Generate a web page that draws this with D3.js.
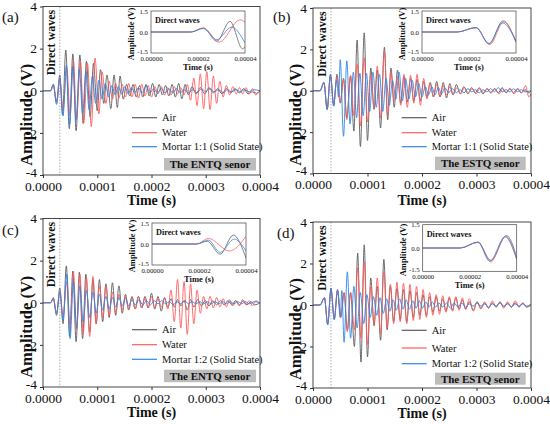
<!DOCTYPE html>
<html><head><meta charset="utf-8">
<script src="https://cdn.jsdelivr.net/npm/d3@7"></script>
<style>
body{margin:0;background:#fff;}
svg{display:block;font-family:"Liberation Serif","Times New Roman",Times,serif;}
</style>
</head><body>
<svg id="chart" width="550" height="424"></svg>
<script>
// ---------- tick values / labels ----------
const xTicks = [0, 0.0001, 0.0002, 0.0003, 0.0004];
const xTickLabels = ["0.0000", "0.0001", "0.0002", "0.0003", "0.0004"];
const yTicks = [4, 2, 0, -2, -4];
const yTickLabels = ["4", "2", "0", "-2", "-4"];
const insetXTicks = [0, 0.00002, 0.00004];
const insetXTickLabels = ["0.00000", "0.00002", "0.00004"];
const insetYTicks = [1.5, 0, -1.5];
const insetYTickLabels = ["1.5", "0.0", "-1.5"];
const panelLetters = ["(a)", "(b)", "(c)", "(d)"];
const sensorLabels = ["The ENTQ senor", "The ESTQ senor", "The ENTQ senor", "The ESTQ senor"];
const mortarLabels = ["Mortar 1:1 (Solid State)", "Mortar 1:1 (Solid State)", "Mortar 1:2 (Solid State)", "Mortar 1:2 (Solid State)"];
const seriesLabels = ["Air", "Water"];
const directWaveTimes = [0.000031, 0.000033, 0.000031, 0.000033]; // s

// ---------- waveforms: [time (µs), amplitude (V)] ----------
const airA = [[0,0],[14,0],[19,0.3],[25,-0.5],[31,0.75],[36,-1.15],[42,1.93],[48.5,-1.8],[55,1.75],[61,-1.9],[68,1.7],[74,-1.55],[80,1.4],[87,-1.25],[93,1.3],[100,-0.95],[106,1.0],[112,-0.6],[118,0.75],[125,-0.85],[131,0.75],[137,-0.8],[142,0.7],[148,-0.4],[154,0.3],[160,-0.25],[166,0.3],[172,-0.3],[178,0.25],[184,-0.3],[190,0.3],[196,-0.25],[202,0.35],[208,-0.3],[214,0.3],[220,-0.2],[226,0.25],[232,-0.25],[238,0.3],[244,-0.3],[250,0.35],[256,-0.38],[262,0.3],[268,-0.2],[275,0.2],[282,-0.15],[290,0.15],[298,-0.15],[306,0.15],[314,-0.1],[322,0.1],[330,-0.15],[338,0.1],[346,-0.1],[354,0.1],[362,-0.1],[370,0.1],[378,-0.15],[386,-0.05],[394,-0.12],[400,0]];
const waterA = [[0,0],[14,0],[19,0.25],[25,-0.6],[31,0.5],[37,-0.9],[44,1.1],[50,-1.2],[56,1.45],[62,-1.3],[69,1.4],[75,-1.55],[82,1.3],[89,-1.7],[96,1.55],[103,-1.1],[109,0.9],[116,-0.6],[122,0.45],[128,-0.4],[134,0.35],[140,-0.35],[146,0.3],[152,-0.3],[158,0.35],[164,-0.3],[170,0.3],[176,-0.35],[182,0.3],[188,-0.25],[194,0.25],[200,-0.3],[206,0.2],[212,-0.15],[218,0.2],[224,-0.2],[230,0.15],[236,-0.2],[242,0.2],[248,-0.15],[254,0.15],[260,-0.2],[266,0.3],[272,-0.45],[278,0.6],[284,-0.7],[290,0.8],[296,-0.85],[302,0.9],[308,-0.9],[314,0.7],[320,-0.6],[326,0.45],[332,-0.3],[338,0.25],[344,-0.2],[350,0.2],[356,-0.15],[362,0.15],[368,-0.15],[374,0.15],[380,-0.15],[386,0.1],[392,-0.2],[400,0.05]];
const mortarA = [[0,0],[14,0],[19,0.3],[25,-0.65],[31,0.6],[37,-1.2],[43,1.2],[49,-1.6],[55,1.15],[61,-1.4],[67,1.0],[73,-1.1],[79,0.9],[85,-0.9],[91,0.7],[97,-0.6],[103,0.5],[109,-0.4],[115,0.35],[121,-0.3],[127,0.25],[133,-0.2],[139,0.2],[145,-0.15],[151,0.2],[157,-0.15],[163,0.15],[169,-0.1],[176,0.15],[183,-0.1],[190,0.25],[197,-0.1],[204,0.1],[211,-0.1],[218,0.1],[225,-0.1],[232,0.1],[239,-0.1],[246,0.1],[253,-0.1],[260,0.05],[268,-0.1],[276,0.05],[284,-0.1],[292,0.1],[300,-0.05],[308,0.1],[316,-0.05],[324,0.05],[332,-0.1],[340,0.05],[348,-0.05],[356,0.05],[364,-0.05],[372,0.05],[380,-0.05],[388,0.05],[400,0]];

const airB = [[0,0],[13,0],[20,0.4],[26,-0.9],[32,0.75],[38,-0.7],[44,0.8],[50,-0.6],[56,0.6],[62,-1.3],[69,0.7],[75,-1.95],[81,2.45],[87,-2.7],[94,2.8],[100,-2.4],[106,1.1],[112,-0.9],[118,1.0],[124,-1.8],[131,2.1],[137,-1.4],[143,1.1],[149,-0.8],[155,1.0],[161,-0.6],[167,0.7],[173,-0.55],[179,0.6],[185,-0.5],[191,0.55],[197,-0.5],[203,0.45],[209,-0.3],[215,0.4],[221,-0.3],[227,0.45],[233,-0.3],[239,0.4],[245,-0.35],[251,0.35],[257,-0.2],[263,0.3],[270,-0.15],[277,0.2],[284,-0.15],[291,0.15],[298,-0.1],[305,0.15],[312,-0.15],[319,0.1],[326,-0.1],[333,0.1],[340,-0.1],[347,0.15],[354,-0.1],[361,0.1],[368,-0.1],[375,0.1],[382,-0.1],[389,0.05],[396,-0.1],[400,0]];
const waterB = [[0,0],[13,0],[20,0.4],[26,-0.9],[32,0.7],[38,-0.65],[44,0.65],[50,-0.55],[56,0.55],[62,-1.4],[69,0.75],[75,-1.2],[81,1.3],[87,-1.7],[94,1.6],[100,-1.5],[106,0.8],[112,-0.8],[118,1.2],[124,-1.3],[131,1.9],[137,-1.2],[143,0.9],[149,-0.5],[155,0.7],[161,-0.7],[167,0.8],[173,-0.8],[179,0.75],[185,-0.6],[191,0.8],[197,-0.7],[203,0.6],[209,-0.4],[215,0.35],[221,-0.3],[227,0.3],[233,-0.3],[239,0.25],[245,-0.2],[251,0.2],[257,-0.2],[264,0.15],[271,-0.15],[278,0.15],[285,-0.1],[292,0.1],[299,-0.15],[306,0.1],[313,-0.1],[320,0.1],[327,-0.1],[334,0.1],[341,-0.15],[348,0.1],[355,-0.1],[362,0.1],[369,-0.15],[376,0.1],[383,-0.1],[390,0.25],[396,-0.3],[400,-0.15]];
const mortarB = [[0,0],[13,0],[20,0.4],[26,-0.9],[32,0.8],[38,-0.75],[43,0.5],[47,-0.3],[50,1.5],[56,-2.2],[62,1.45],[68,-1.6],[74,0.9],[80,-1.3],[86,0.85],[92,-1.2],[98,0.85],[104,-1.0],[110,0.9],[116,-0.8],[122,0.8],[128,-1.0],[134,0.6],[140,-0.7],[146,0.5],[152,-0.4],[158,0.9],[164,-0.5],[170,0.6],[176,-0.4],[182,0.5],[188,-0.3],[194,0.35],[200,-0.3],[206,0.2],[212,-0.2],[218,0.2],[224,-0.2],[230,0.15],[236,-0.15],[242,0.15],[249,-0.1],[256,0.1],[263,-0.1],[270,0.05],[277,-0.1],[284,0.1],[291,-0.05],[298,0.05],[305,-0.1],[312,0.05],[319,-0.05],[326,0.1],[333,-0.05],[340,0.15],[347,-0.05],[354,0.05],[361,-0.05],[368,0.1],[375,-0.05],[382,0.05],[389,-0.05],[400,0]];

const airC = [[0,0],[14,0],[19,0.2],[25,-0.6],[31,0.7],[37,-1.0],[43,1.75],[49,-1.6],[55,1.5],[61,-1.85],[67,1.45],[73,-1.7],[79,1.35],[86,-1.4],[92,1.1],[98,-1.0],[104,1.1],[110,-0.9],[116,0.9],[122,-0.7],[128,0.95],[134,-0.6],[140,0.8],[146,-0.5],[152,0.4],[158,-0.35],[164,0.3],[170,-0.3],[176,0.3],[182,-0.25],[188,0.3],[194,-0.25],[200,0.45],[206,-0.3],[212,0.3],[218,-0.4],[224,0.25],[230,-0.2],[236,0.2],[242,-0.2],[248,0.15],[254,-0.15],[260,0.1],[266,-0.35],[272,0.15],[278,-0.2],[285,0.15],[292,-0.15],[299,0.1],[306,-0.15],[313,0.1],[320,-0.1],[327,0.1],[334,-0.1],[341,0.1],[348,-0.1],[355,0.1],[362,-0.1],[369,0.1],[376,-0.1],[383,0.05],[390,-0.1],[400,0]];
const waterC = [[0,0],[14,0],[19,0.25],[25,-0.5],[31,0.5],[37,-0.6],[44,1.0],[50,-1.1],[56,1.5],[62,-1.3],[68,1.35],[74,-1.5],[80,1.2],[86,-1.6],[92,1.25],[98,-1.0],[104,0.8],[110,-0.7],[116,0.8],[122,-0.6],[128,0.5],[134,-0.5],[140,0.4],[146,-0.35],[152,0.3],[158,-0.3],[164,0.25],[170,-0.3],[176,0.3],[182,-0.25],[188,0.2],[194,-0.25],[200,0.3],[206,-0.25],[212,0.2],[218,-0.2],[224,0.2],[230,-0.3],[236,0.6],[242,-0.9],[248,1.1],[254,-1.2],[260,1.0],[266,-1.5],[272,0.9],[278,-1.0],[284,0.6],[290,-0.5],[296,0.3],[302,-0.3],[308,0.3],[314,-0.25],[320,0.25],[326,-0.2],[332,0.2],[338,-0.2],[344,0.15],[350,-0.15],[356,0.1],[362,-0.15],[368,0.15],[374,-0.1],[380,0.1],[386,-0.15],[392,0.1],[400,-0.05]];
const mortarC = [[0,0],[14,0],[19,0.2],[25,-0.5],[31,0.5],[37,-0.8],[44,1.35],[50,-1.7],[56,1.0],[62,-1.2],[68,0.8],[74,-0.9],[80,0.6],[86,-0.7],[92,0.5],[98,-0.5],[104,0.4],[110,-0.35],[116,0.3],[122,-0.3],[128,0.25],[134,-0.2],[140,0.25],[146,-0.15],[152,0.2],[158,-0.15],[164,0.15],[170,-0.1],[177,0.15],[184,-0.1],[191,0.1],[198,-0.1],[205,0.1],[212,-0.05],[219,0.1],[226,-0.05],[233,0.05],[240,-0.1],[247,0.05],[254,-0.05],[261,0.1],[268,-0.05],[275,0.05],[282,-0.05],[289,0.05],[296,-0.05],[303,0.05],[310,-0.05],[317,0.05],[324,-0.05],[331,0.05],[338,-0.05],[345,0.05],[352,-0.05],[359,0.05],[366,-0.05],[373,0.05],[380,-0.05],[390,0.05],[400,0]];

const airD = [[0,0],[13,0],[21,0.35],[27,-0.95],[33,0.8],[39,-0.7],[45,0.75],[51,-0.6],[57,0.6],[63,-1.2],[69,0.6],[76,-2.0],[82,2.5],[88,-2.75],[94,2.9],[100,-2.5],[106,1.3],[112,-1.0],[118,0.9],[124,-1.7],[130,2.2],[136,-1.2],[142,0.9],[148,-0.8],[154,0.8],[160,-0.7],[166,0.75],[172,-0.8],[178,0.7],[184,-0.6],[190,0.6],[196,-0.5],[202,0.5],[208,-0.5],[214,0.4],[220,-0.35],[226,0.4],[232,-0.3],[238,0.3],[244,-0.3],[250,0.35],[256,-0.25],[262,0.35],[268,-0.2],[274,0.25],[280,-0.2],[287,0.15],[294,-0.25],[301,0.15],[308,-0.15],[315,0.1],[322,-0.15],[329,0.1],[336,-0.1],[343,0.15],[350,-0.1],[357,0.1],[364,-0.1],[371,0.1],[378,-0.1],[385,0.1],[392,-0.1],[400,0]];
const waterD = [[0,0],[13,0],[21,0.35],[27,-0.9],[33,0.75],[39,-0.65],[45,0.7],[51,-0.55],[57,0.55],[63,-1.3],[69,0.6],[76,-1.2],[82,1.8],[88,-1.6],[94,2.1],[100,-1.9],[106,0.9],[112,-0.9],[118,1.3],[124,-1.4],[130,1.6],[136,-1.1],[142,1.0],[148,-0.9],[154,1.1],[160,-0.8],[166,1.05],[172,-0.9],[178,1.0],[184,-0.75],[190,0.9],[196,-0.7],[202,0.75],[208,-0.6],[214,0.6],[220,-0.5],[226,0.5],[232,-0.45],[238,0.45],[244,-0.35],[250,0.4],[256,-0.3],[262,0.4],[268,-0.25],[274,0.35],[280,-0.2],[287,0.3],[294,-0.3],[301,0.15],[308,-0.2],[315,0.15],[322,-0.15],[329,0.2],[336,-0.1],[343,0.15],[350,-0.15],[357,0.15],[364,-0.1],[371,0.2],[378,-0.1],[385,0.1],[392,-0.1],[400,0]];
const mortarD = [[0,0],[13,0],[21,0.35],[27,-0.95],[33,0.8],[39,-0.7],[45,0.7],[50,-0.6],[53,0.7],[57,-1.8],[63,1.6],[69,-1.6],[75,0.9],[81,-1.1],[87,0.6],[93,-0.9],[99,0.5],[105,-0.6],[111,0.4],[117,-0.5],[123,0.35],[129,-0.4],[135,0.3],[141,-0.3],[147,0.25],[153,-0.25],[159,0.3],[165,-0.2],[171,0.25],[177,-0.2],[183,0.2],[189,-0.15],[195,0.2],[201,-0.15],[207,0.15],[213,-0.1],[219,0.15],[225,-0.1],[231,0.1],[238,-0.1],[245,0.1],[252,-0.15],[259,0.1],[266,-0.1],[273,0.1],[280,-0.1],[287,0.05],[294,-0.05],[301,0.1],[308,-0.05],[315,0.05],[322,-0.1],[329,0.05],[336,-0.05],[343,0.1],[350,-0.05],[357,0.05],[364,-0.1],[371,0.05],[378,-0.05],[385,0.05],[392,-0.05],[400,0.05]];

// ---------- inset (direct waves) : [time (µs), amplitude (V)] ----------
const airAi = [[0,0],[17,0],[22.3,0.28],[28,-0.66],[33.6,0.76],[39,-1.2],[40,-1.05]];
const waterAi = [[0,0],[17,0],[22.3,0.3],[29,-0.73],[37.9,0.87],[40,0.7]];
const mortarAi = [[0,0],[17,0],[22.3,0.25],[28,-0.55],[34.3,0.35],[40,-0.78]];
const airBi = [[0,0],[15,0],[23,0.32],[28.5,-0.85],[34.5,0.8],[40,-0.7]];
const waterBi = [[0,0],[15,0],[23,0.3],[28.8,-0.9],[34.8,0.72],[40,-0.75]];
const mortarBi = [[0,0],[15,0],[23,0.32],[28.5,-0.82],[34.2,0.65],[40,-0.65]];
const airCi = [[0,0],[19,0],[23.5,0.2],[29,-0.73],[34.6,0.64],[40,-1.0]];
const waterCi = [[0,0],[19,0],[24,0.4],[33,-0.5],[40,0.55]];
const mortarCi = [[0,0],[19,0],[24,0.28],[29,-0.6],[35,0.35],[40,-0.5]];
const airDi = [[0,0],[16,0],[23.5,0.38],[29,-0.8],[35.7,0.8],[40,-0.6]];
const waterDi = [[0,0],[16,0],[23.5,0.36],[29,-0.9],[35,0.72],[40,-0.75]];
const mortarDi = [[0,0],[16,0],[23.5,0.38],[28.5,-0.85],[35.2,0.75],[40,-0.7]];

const mainSeries = [[airA, waterA, mortarA],[airB, waterB, mortarB],[airC, waterC, mortarC],[airD, waterD, mortarD]];
const insetSeries = [[airAi, waterAi, mortarAi],[airBi, waterBi, mortarBi],[airCi, waterCi, mortarCi],[airDi, waterDi, mortarDi]];

// ---------- layout (pixels) ----------
const colors = ["#5c5c5c", "#ff5c5c", "#2f86e6"];
const layout = [
  {x0:43, x1:260, yT:6.5, yB:175, ins:[151,11,94,42], legX:132, legY:[117.7,132.7,146.7], box:[164,158,92,12.5], letter:[2,22], ampX:26.5, timeY:205},
  {x0:313, x1:531, yT:8, yB:173.5, ins:[422,11,94,42], legX:401.7, legY:[117.7,132.7,146.7], box:[435,156.7,90.7,13.3], letter:[273,22], ampX:295, timeY:205},
  {x0:43, x1:260, yT:218.5, yB:387, ins:[152,223,94,42], legX:132, legY:[329.7,344.7,359.3], box:[164,369.7,92,12.5], letter:[2,235], ampX:26.5, timeY:417},
  {x0:313, x1:531, yT:222, yB:388, ins:[422.7,224.7,94,46.6], legX:401.7, legY:[330.3,348,363.7], box:[435,372.7,90.7,12], letter:[277,238], ampX:295, timeY:418}
];

const svg = d3.select("#chart");
const defs = svg.append("defs");
const FONT = "Liberation Serif, Times New Roman, Times, serif";

layout.forEach((L, i) => {
  const g = svg.append("g");
  const x = d3.scaleLinear().domain([0, 0.0004]).range([L.x0, L.x1]);
  const y = d3.scaleLinear().domain([-4, 4]).range([L.yB, L.yT]);
  defs.append("clipPath").attr("id", "clip" + i).append("rect")
    .attr("x", L.x0).attr("y", L.yT).attr("width", L.x1 - L.x0).attr("height", L.yB - L.yT);

  g.append("line").attr("x1", x(directWaveTimes[i])).attr("x2", x(directWaveTimes[i]))
    .attr("y1", L.yT).attr("y2", L.yB).attr("stroke", "#999").attr("stroke-width", 0.8)
    .attr("stroke-dasharray", "1.5,1.5");

  const line = d3.line().x(d => x(d[0] * 1e-6)).y(d => y(d[1])).curve(d3.curveMonotoneX);
  mainSeries[i].forEach((s, k) => {
    g.append("path").datum(s).attr("d", line).attr("fill", "none")
      .attr("stroke", colors[k]).attr("stroke-width", 1).attr("stroke-opacity", 0.9)
      .attr("clip-path", `url(#clip${i})`);
  });

  g.append("rect").attr("x", L.x0).attr("y", L.yT).attr("width", L.x1 - L.x0).attr("height", L.yB - L.yT)
    .attr("fill", "none").attr("stroke", "#333").attr("stroke-width", 0.9);

  const xa = g.append("g").attr("transform", `translate(0,${L.yB})`)
    .call(d3.axisBottom(x).tickValues(xTicks).tickFormat((d, j) => xTickLabels[j]).tickSize(3).tickPadding(3));
  const ya = g.append("g").attr("transform", `translate(${L.x0},0)`)
    .call(d3.axisLeft(y).tickValues(yTicks).tickFormat((d, j) => yTickLabels[j]).tickSize(3).tickPadding(3));
  [xa, ya].forEach(a => {
    a.attr("font-family", FONT);
    a.select(".domain").remove();
    a.selectAll("line").attr("stroke", "#333");
    a.selectAll("text").attr("font-family", FONT).attr("font-size", 13.5).attr("fill", "#111");
  });
  ya.selectAll("text").filter((d, j) => j === 4).attr("dy", "0.1em");

  g.append("text").attr("x", (L.x0 + L.x1) / 2).attr("y", L.timeY).attr("text-anchor", "middle")
    .attr("font-size", 14).attr("font-weight", "bold").attr("fill", "#111").text("Time (s)");
  const ampY = y(0) + 24;
  g.append("text").attr("transform", `translate(${L.ampX},${ampY}) rotate(-90)`).attr("dy", "0.35em")
    .attr("text-anchor", "middle").attr("font-size", 16.5).attr("font-weight", "bold").attr("fill", "#111")
    .text("Amplitude (V)");

  g.append("text").attr("transform", `translate(${x(directWaveTimes[i]) - 9},${L.yT + 36}) rotate(-90)`)
    .attr("dy", "0.35em").attr("text-anchor", "middle").attr("font-size", 12).attr("font-weight", "bold")
    .attr("fill", "#111").text("Direct waves");

  g.append("text").attr("x", L.letter[0]).attr("y", L.letter[1]).attr("font-size", 15).attr("fill", "#111")
    .text(panelLetters[i]);

  const legNames = [seriesLabels[0], seriesLabels[1], mortarLabels[i]];
  legNames.forEach((nm, k) => {
    g.append("line").attr("x1", L.legX).attr("x2", L.legX + 25).attr("y1", L.legY[k]).attr("y2", L.legY[k])
      .attr("stroke", colors[k]).attr("stroke-width", 1.2);
    g.append("text").attr("x", L.legX + 30).attr("y", L.legY[k] + 3.6).attr("font-size", 10.5)
      .attr("fill", "#111").text(nm);
  });

  g.append("rect").attr("x", L.box[0]).attr("y", L.box[1]).attr("width", L.box[2]).attr("height", L.box[3])
    .attr("fill", "#bdbdbd");
  g.append("text").attr("x", L.box[0] + L.box[2] / 2).attr("y", L.box[1] + L.box[3] / 2).attr("dy", "0.35em")
    .attr("text-anchor", "middle").attr("font-size", 11).attr("font-weight", "bold").attr("fill", "#111")
    .text(sensorLabels[i]);

  // inset
  const [il, it, iw, ih] = L.ins;
  const ix = d3.scaleLinear().domain([0, 0.00004]).range([il, il + iw]);
  const iy = d3.scaleLinear().domain([-1.5, 1.5]).range([it + ih, it]);
  const ig = svg.append("g");
  ig.append("rect").attr("x", il).attr("y", it).attr("width", iw).attr("height", ih).attr("fill", "#fff");
  defs.append("clipPath").attr("id", "iclip" + i).append("rect")
    .attr("x", il).attr("y", it).attr("width", iw).attr("height", ih);
  const iline = d3.line().x(d => ix(d[0] * 1e-6)).y(d => iy(d[1])).curve(d3.curveMonotoneX);
  insetSeries[i].forEach((s, k) => {
    ig.append("path").datum(s).attr("d", iline).attr("fill", "none")
      .attr("stroke", colors[k]).attr("stroke-width", 0.9).attr("stroke-opacity", 0.85)
      .attr("clip-path", `url(#iclip${i})`);
  });
  ig.append("rect").attr("x", il).attr("y", it).attr("width", iw).attr("height", ih)
    .attr("fill", "none").attr("stroke", "#444").attr("stroke-width", 0.7);
  const ixa = ig.append("g").attr("transform", `translate(0,${it + ih})`)
    .call(d3.axisBottom(ix).tickValues(insetXTicks).tickFormat((d, j) => insetXTickLabels[j]).tickSize(0).tickPadding(3));
  const iya = ig.append("g").attr("transform", `translate(${il},0)`)
    .call(d3.axisLeft(iy).tickValues(insetYTicks).tickFormat((d, j) => insetYTickLabels[j]).tickSize(0).tickPadding(3));
  [ixa, iya].forEach(a => {
    a.select(".domain").remove();
    a.selectAll("text").attr("font-family", FONT).attr("font-size", 6.8).attr("fill", "#111");
  });
  iya.selectAll("text").filter((d, j) => j === 2).attr("dy", "0.05em");
  ig.append("text").attr("x", il + iw / 2).attr("y", it + ih + 17).attr("text-anchor", "middle")
    .attr("font-size", 8.5).attr("font-weight", "bold").attr("fill", "#111").text("Time (s)");
  ig.append("text").attr("transform", `translate(${il - 20},${it + ih / 2 + 2}) rotate(-90)`).attr("dy", "0.35em")
    .attr("text-anchor", "middle").attr("font-size", 8.5).attr("font-weight", "bold").attr("fill", "#111")
    .text("Amplitude (V)");
  ig.append("text").attr("x", il + 4).attr("y", it + 12).attr("font-size", 8.2).attr("font-weight", "bold")
    .attr("fill", "#111").text("Direct waves");
});
</script>
</body></html>
